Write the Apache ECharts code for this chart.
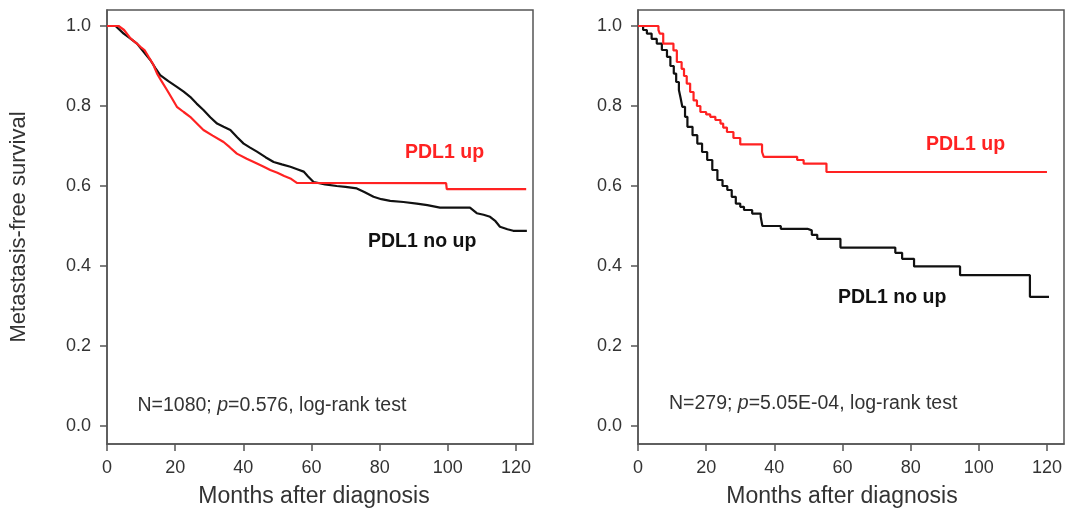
<!DOCTYPE html>
<html>
<head>
<meta charset="utf-8">
<script src="https://cdn.jsdelivr.net/npm/echarts@6/dist/echarts.min.js"></script>
<style>
html,body{margin:0;padding:0;background:#fff;}
#chart{width:1066px;height:511px;}
</style>
</head>
<body>
<div id="chart"></div>
<script>
// ---- data (months, survival) ----
var xTicks = [0, 20, 40, 60, 80, 100, 120];
var yTicks = [0, 0.2, 0.4, 0.6, 0.8, 1.0];

var leftUp = [[0,1.0],[3.4,1.0],[5,0.99],[6.9,0.969],[8.5,0.958],[9.8,0.948],[11,0.94],[12.2,0.923],[13.5,0.905],[14.7,0.881],[16,0.862],[17.6,0.84],[19,0.82],[20.5,0.798],[22.5,0.785],[24.4,0.773],[26.3,0.757],[28.3,0.74],[31,0.726],[34.2,0.71],[36,0.697],[38.1,0.681],[41,0.668],[44,0.656],[46,0.648],[47.9,0.64],[50,0.633],[52,0.625],[53.8,0.619],[55.7,0.608],[99.5,0.607],[99.7,0.592],[123,0.592]];
var leftNoUp = [[0,1.0],[2.5,1.0],[4.9,0.981],[7,0.968],[8.8,0.956],[10.8,0.935],[12.7,0.915],[14.2,0.895],[15.6,0.877],[18,0.862],[20.5,0.848],[22.5,0.836],[24.4,0.823],[26.3,0.806],[28.3,0.79],[30.3,0.772],[32.3,0.756],[34.2,0.748],[36.2,0.74],[38.2,0.722],[40.1,0.706],[42,0.696],[44,0.686],[46.5,0.672],[48.9,0.66],[51.3,0.654],[53.8,0.648],[55.8,0.642],[57.7,0.636],[59,0.624],[60.6,0.61],[64,0.604],[67.4,0.6],[70,0.598],[73.3,0.594],[75.5,0.585],[78.2,0.573],[80.5,0.567],[83.1,0.563],[87,0.56],[90.9,0.556],[94,0.552],[97.7,0.546],[106.5,0.546],[108.5,0.532],[110.5,0.528],[112.4,0.523],[114,0.512],[115.3,0.498],[117.5,0.492],[119.2,0.488],[123.2,0.488]];

var rightUp = [[0,1.0],[6,0.99],[6.4,0.981],[7.4,0.956],[10.4,0.939],[11.4,0.91],[12.8,0.893],[13.5,0.875],[14.3,0.856],[15.3,0.835],[16.3,0.814],[17.3,0.8],[18.3,0.785],[20,0.779],[21.2,0.773],[22.7,0.765],[24.2,0.756],[25,0.746],[26.1,0.735],[28,0.72],[30,0.704],[36.4,0.685],[36.9,0.673],[46.7,0.665],[48.6,0.656],[55.3,0.635],[120,0.635]];
var rightNoUp = [[0,1.0],[1.5,0.99],[2.6,0.981],[4,0.968],[5.5,0.956],[7,0.94],[8.5,0.923],[9.5,0.9],[10.5,0.881],[11.2,0.86],[12,0.84],[12.5,0.82],[13,0.798],[13.8,0.773],[14.5,0.748],[16,0.727],[17.4,0.706],[18.8,0.685],[20.3,0.665],[21.8,0.64],[23.3,0.615],[24.8,0.6],[26.2,0.59],[27.5,0.573],[28.7,0.556],[30,0.548],[31.1,0.54],[33.5,0.531],[36,0.523],[36.5,0.5],[41.9,0.493],[49.7,0.489],[51,0.478],[52.6,0.468],[59.4,0.446],[75.5,0.433],[77.5,0.418],[81,0.399],[94.5,0.377],[115,0.323],[120.6,0.323]];

var RED = '#ff2222';
var BLK = '#111111';
var TXT = '#333333';
var BOX = '#555555';
var FF = 'Liberation Sans, Arial, sans-serif';

function xAx(i){
  return {
    type:'value', gridIndex:i, min:0, max:125, position:'bottom',
    axisLine:{show:true, onZero:false, lineStyle:{color:BOX, width:1.5}},
    axisTick:{show:true, inside:false, length:7, customValues:xTicks, lineStyle:{color:BOX, width:1.5}},
    axisLabel:{customValues:xTicks, fontSize:18, color:TXT, margin:15, fontFamily:FF},
    splitLine:{show:false}
  };
}
function yAx(i){
  return {
    type:'value', gridIndex:i, min:-0.045, max:1.04, position:'left',
    axisLine:{show:true, onZero:false, lineStyle:{color:BOX, width:1.5}},
    axisTick:{show:true, inside:false, length:7, customValues:yTicks, lineStyle:{color:BOX, width:1.5}},
    axisLabel:{customValues:yTicks, fontSize:18, color:TXT, margin:16, fontFamily:FF,
      formatter:function(v){return v.toFixed(1);}},
    splitLine:{show:false}
  };
}
function ln(data, color, idx, step){
  var s = {type:'line', xAxisIndex:idx, yAxisIndex:idx, data:data, showSymbol:false, symbol:'none',
    lineStyle:{color:color, width:2.2}, itemStyle:{color:color}, animation:false, silent:true};
  if (step) s.step = 'end';
  return s;
}
function txt(x, y, text, size, color, bold, align){
  return {type:'text', x:x, y:y, style:{text:text, fontSize:size, fill:color, fontFamily:FF,
    fontWeight:bold?'bold':'normal', align:align||'left', verticalAlign:'middle'}};
}
function richTxt(x, y, a, b){
  return {type:'text', x:x, y:y, style:{
    text:'{n|' + a + '}{i|p}{n|' + b + '}', verticalAlign:'middle', align:'left',
    rich:{n:{fontSize:19.5, fill:TXT, fontFamily:FF}, i:{fontSize:19.5, fill:TXT, fontFamily:FF, fontStyle:'italic'}}}};
}

var chart = echarts.init(document.getElementById('chart'), null, {renderer:'canvas'});
chart.setOption({
  animation:false,
  backgroundColor:'#ffffff',
  grid:[
    {left:107, top:10, width:426, height:434, show:true, borderColor:BOX, borderWidth:1.5, backgroundColor:'transparent'},
    {left:638, top:10, width:426, height:434, show:true, borderColor:BOX, borderWidth:1.5, backgroundColor:'transparent'}
  ],
  xAxis:[xAx(0), xAx(1)],
  yAxis:[yAx(0), yAx(1)],
  series:[
    ln(leftNoUp, BLK, 0, false),
    ln(leftUp, RED, 0, false),
    ln(rightNoUp, BLK, 1, true),
    ln(rightUp, RED, 1, true)
  ],
  graphic:[
    {type:'text', x:19, y:227, rotation:Math.PI/2, style:{text:'Metastasis-free survival', fontSize:22, fill:TXT, fontFamily:FF, align:'center', verticalAlign:'middle'}},
    txt(314, 497, 'Months after diagnosis', 23, TXT, false, 'center'),
    txt(842, 497, 'Months after diagnosis', 23, TXT, false, 'center'),
    txt(405, 153, 'PDL1 up', 19.5, RED, true),
    txt(368, 241.5, 'PDL1 no up', 19.5, BLK, true),
    txt(926, 145, 'PDL1 up', 19.5, RED, true),
    txt(838, 298, 'PDL1 no up', 19.5, BLK, true),
    richTxt(137.5, 406, 'N=1080; ', '=0.576, log-rank test'),
    richTxt(669, 403.5, 'N=279; ', '=5.05E-04, log-rank test')
  ]
});
</script>
</body>
</html>
